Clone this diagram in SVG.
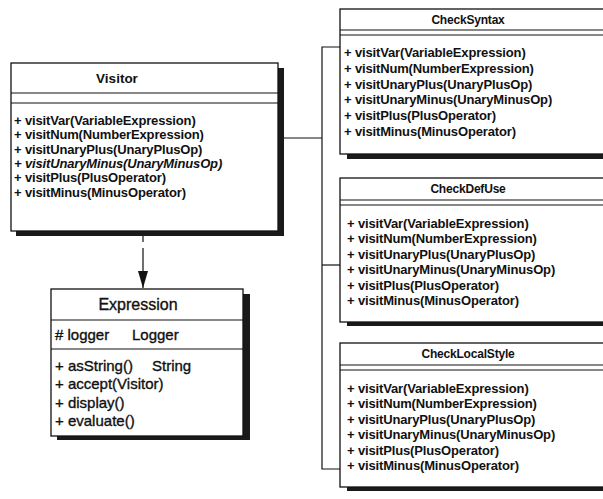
<svg xmlns="http://www.w3.org/2000/svg" width="603" height="499" viewBox="0 0 603 499">
<defs>
<style>
.box{fill:#fff;stroke:#111;stroke-width:1.3}
.sh{fill:#1a1a1a}
.div{stroke:#111;stroke-width:1.2;fill:none}
.t{font-family:"Liberation Sans",Arial,sans-serif;font-weight:bold;fill:#111;font-size:13px;letter-spacing:-0.15px}
.title{font-size:13.5px;letter-spacing:0;text-anchor:middle}
.rtitle{font-size:12px;letter-spacing:-0.2px;text-anchor:middle}
.e{font-family:"Liberation Sans",Arial,sans-serif;font-size:15px;fill:#111;stroke:#111;stroke-width:0.35}
.etitle{font-size:16px;text-anchor:middle}
.line{stroke:#111;stroke-width:1.2;fill:none}
</style>
<marker id="gen" viewBox="0 0 14 18" refX="0.5" refY="9" markerWidth="14" markerHeight="18" markerUnits="userSpaceOnUse" orient="auto">
<path d="M13.5,1 L0.5,9 L13.5,17 Z" fill="#fff" stroke="#111" stroke-width="1.2"/>
</marker>
<marker id="dep" viewBox="0 0 17 11" refX="17" refY="5.5" markerWidth="17" markerHeight="11" markerUnits="userSpaceOnUse" orient="auto">
<path d="M0,0.5 L17,5.5 L0,10.5 Z" fill="#111"/>
</marker>
</defs>
<rect width="603" height="499" fill="#fff"/>

<g id="connectors">
<path class="line" d="M340,47 H322 V469 H340"/>
<path class="line" d="M322,265 H340"/>
<path class="line" d="M322,138 H279" marker-end="url(#gen)"/>
<line class="line" x1="143" y1="235" x2="143" y2="288" stroke-dasharray="7 6 60" marker-end="url(#dep)"/>
</g>

<g id="Visitor">
<rect class="sh" x="16" y="68" width="268" height="168"/>
<rect class="box" x="11" y="63" width="267" height="168"/>
<line class="div" x1="11" y1="93" x2="278" y2="93"/>
<line class="div" x1="11" y1="103" x2="278" y2="103"/>
<text class="t title" x="117" y="83">Visitor</text>
<text class="t" x="14" y="125">+ visitVar(VariableExpression)</text>
<text class="t" x="14" y="139.3">+ visitNum(NumberExpression)</text>
<text class="t" x="14" y="153.6">+ visitUnaryPlus(UnaryPlusOp)</text>
<text class="t" x="14" y="167.9" font-style="italic">+ visitUnaryMinus(UnaryMinusOp)</text>
<text class="t" x="14" y="182.2">+ visitPlus(PlusOperator)</text>
<text class="t" x="14" y="196.5">+ visitMinus(MinusOperator)</text>
</g>

<g id="Expression">
<rect class="sh" x="57" y="294" width="193" height="146"/>
<rect class="box" x="51" y="289" width="192" height="147"/>
<line class="div" x1="51" y1="320" x2="243" y2="320"/>
<line class="div" x1="51" y1="349" x2="243" y2="349"/>
<text class="e etitle" x="138" y="310">Expression</text>
<text class="e" x="55" y="340"># logger</text>
<text class="e" x="132" y="340">Logger</text>
<text class="e" x="55" y="371">+ asString()</text>
<text class="e" x="152" y="371">String</text>
<text class="e" x="55" y="389">+ accept(Visitor)</text>
<text class="e" x="55" y="408">+ display()</text>
<text class="e" x="55" y="426">+ evaluate()</text>
</g>

<g id="CheckSyntax">
<rect class="sh" x="347" y="15" width="270" height="144"/>
<rect class="box" x="340" y="9" width="270" height="145"/>
<line class="div" x1="340" y1="30" x2="610" y2="30"/>
<line class="div" x1="340" y1="35" x2="610" y2="35"/>
<text class="t rtitle" x="468" y="24">CheckSyntax</text>
<text class="t" x="344" y="57">+ visitVar(VariableExpression)</text>
<text class="t" x="344" y="72.8">+ visitNum(NumberExpression)</text>
<text class="t" x="344" y="88.6">+ visitUnaryPlus(UnaryPlusOp)</text>
<text class="t" x="344" y="104.4">+ visitUnaryMinus(UnaryMinusOp)</text>
<text class="t" x="344" y="120.2">+ visitPlus(PlusOperator)</text>
<text class="t" x="344" y="136">+ visitMinus(MinusOperator)</text>
</g>

<g id="CheckDefUse">
<rect class="sh" x="347" y="184" width="270" height="142"/>
<rect class="box" x="340" y="178" width="270" height="144"/>
<line class="div" x1="340" y1="200" x2="610" y2="200"/>
<line class="div" x1="340" y1="205" x2="610" y2="205"/>
<text class="t rtitle" x="468" y="193">CheckDefUse</text>
<text class="t" x="347" y="227.5">+ visitVar(VariableExpression)</text>
<text class="t" x="347" y="243">+ visitNum(NumberExpression)</text>
<text class="t" x="347" y="258.5">+ visitUnaryPlus(UnaryPlusOp)</text>
<text class="t" x="347" y="274">+ visitUnaryMinus(UnaryMinusOp)</text>
<text class="t" x="347" y="289.5">+ visitPlus(PlusOperator)</text>
<text class="t" x="347" y="305">+ visitMinus(MinusOperator)</text>
</g>

<g id="CheckLocalStyle">
<rect class="sh" x="347" y="349" width="270" height="142"/>
<rect class="box" x="340" y="343" width="270" height="144"/>
<line class="div" x1="340" y1="365" x2="610" y2="365"/>
<line class="div" x1="340" y1="370" x2="610" y2="370"/>
<text class="t rtitle" x="468" y="358">CheckLocalStyle</text>
<text class="t" x="347" y="392.5">+ visitVar(VariableExpression)</text>
<text class="t" x="347" y="408">+ visitNum(NumberExpression)</text>
<text class="t" x="347" y="423.5">+ visitUnaryPlus(UnaryPlusOp)</text>
<text class="t" x="347" y="439">+ visitUnaryMinus(UnaryMinusOp)</text>
<text class="t" x="347" y="454.5">+ visitPlus(PlusOperator)</text>
<text class="t" x="347" y="470">+ visitMinus(MinusOperator)</text>
</g>
</svg>
